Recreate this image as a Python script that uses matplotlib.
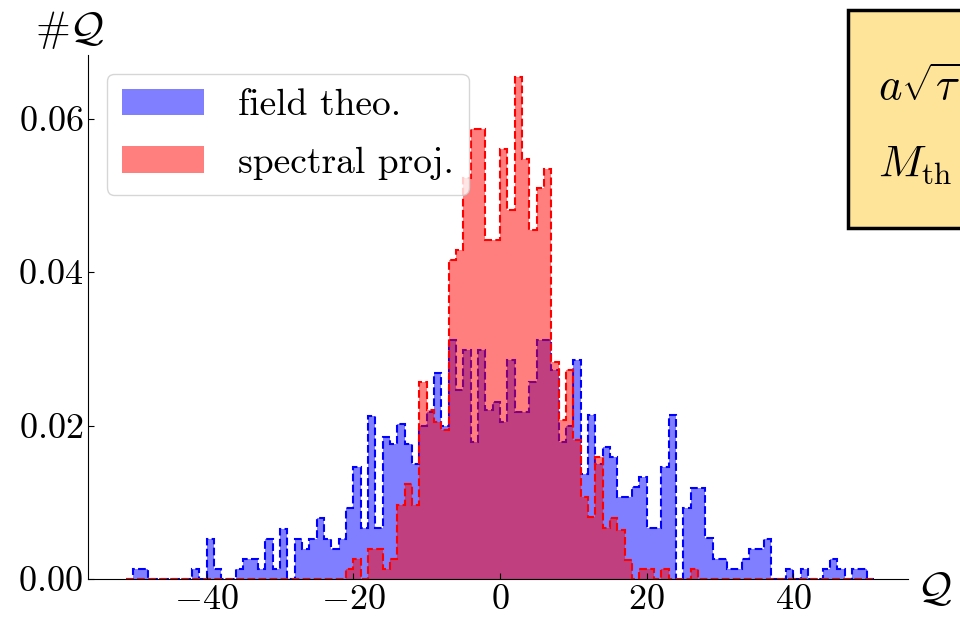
import numpy as np
import matplotlib.pyplot as plt
from matplotlib.patches import Rectangle
from matplotlib.ticker import FuncFormatter

plt.rcParams['font.family'] = 'serif'
plt.rcParams['font.serif'] = ['cmr10']
plt.rcParams['mathtext.fontset'] = 'cm'
plt.rcParams['axes.formatter.use_mathtext'] = True

# bin edges of the topological charge histogram (unit bins)
edges = np.arange(-51, 52)

# normalised counts, bins -51 ... 50
field_theo = [
    0, 0.0013, 0.0013, 0, 0, 0, 0, 0, 0, 0.0013,             # -51..-42
    0, 0.0052, 0.0013, 0, 0, 0.0013, 0.0026, 0.0026, 0.0013, 0.0052,  # -41..-32
    0.0013, 0.0065, 0, 0.0052, 0.0039, 0.0052, 0.0079, 0.0052, 0.0039, 0.0052,  # -31..-22
    0.0092, 0.0146, 0.0066, 0.0212, 0.0067, 0.0185, 0.0176, 0.0202, 0.0176, 0.0150,  # -21..-12
    0.0200, 0.0218, 0.0268, 0.0200, 0.0311, 0.0246, 0.0298, 0.0179, 0.0298, 0.0220,  # -11..-2
    0.0231, 0.0205, 0.0285, 0.0218, 0.0218, 0.0257, 0.0311, 0.0311, 0.0272, 0.0179,  # -1..8
    0.0200, 0.0285, 0.0137, 0.0214, 0.0150, 0.0172, 0.0159, 0.0107, 0.0107, 0.0120,  # 9..18
    0.0133, 0.0066, 0.0066, 0.0146, 0.0214, 0, 0.0092, 0.0119, 0.0119, 0.0053,  # 19..28
    0.0026, 0.0026, 0.0013, 0.0013, 0.0026, 0.0039, 0.0039, 0.0052, 0, 0,  # 29..38
    0.0013, 0, 0.0013, 0, 0, 0.0013, 0.0026, 0.0013, 0, 0.0013,  # 39..48
    0.0013, 0,  # 49..50
]

spectral_proj = [0] * 30 + [
    0.0013, 0.0026, 0, 0.0039, 0.0039, 0.0013, 0.0026, 0.0097, 0.0124, 0.0097,  # -21..-12
    0.0257, 0.0220, 0.0205, 0.0194, 0.0416, 0.0429, 0.0522, 0.0587, 0.0587, 0.0442,  # -11..-2
    0.0442, 0.0561, 0.0481, 0.0654, 0.0548, 0.0455, 0.0509, 0.0535, 0.0283, 0.0207,  # -1..8
    0.0272, 0.0181, 0.0107, 0.0081, 0.0159, 0.0066, 0.0079, 0.0064, 0.0025, 0,  # 9..18
    0.0013, 0.0013, 0, 0.0013, 0, 0, 0, 0.0013,  # 19..26
] + [0] * 24

fig = plt.figure(figsize=(9.6, 6.18), dpi=100)
ax = fig.add_axes([0.0917, 0.0631, 0.854, 0.848])

ax.stairs(field_theo, edges, fill=True, color='blue', alpha=0.5, lw=0, label='field theo.')
ax.stairs(field_theo, edges, color='blue', ls='--', lw=1.5)
ax.stairs(spectral_proj, edges, fill=True, color='red', alpha=0.5, lw=0, label='spectral proj.')
ax.stairs(spectral_proj, edges, color='red', ls='--', lw=1.5)

ax.set_xlim(-56.2, 55.6)
ax.set_ylim(0, 0.0683)
ax.set_xticks([-40, -20, 0, 20, 40])
ax.set_yticks([0, 0.02, 0.04, 0.06])
ax.xaxis.set_major_formatter(FuncFormatter(lambda v, p: r'$%d$' % v))
ax.yaxis.set_major_formatter(FuncFormatter(lambda v, p: r'$%.2f$' % v))
ax.tick_params(direction='in', labelsize=26, length=4)
ax.spines['top'].set_visible(False)
ax.spines['right'].set_visible(False)

ax.text(-0.022, 1.048, r'$\#\mathcal{Q}$', transform=ax.transAxes,
        ha='center', va='center', fontsize=30)
ax.text(1.033, -0.021, r'$\mathcal{Q}$', transform=ax.transAxes,
        ha='center', va='center', fontsize=30)

ax.legend(loc='upper left', fontsize=27, handlelength=2.2,
          handletextpad=0.9, labelspacing=0.65)

# parameter box, runs off the right edge as in the original figure
fig.patches.append(Rectangle((848 / 960, 1 - 228 / 618), 0.2, 218 / 618,
                             transform=fig.transFigure, facecolor='#fde499',
                             edgecolor='black', lw=2.5, zorder=5))
fig.text(878 / 960, 1 - 100 / 618, '$a\\sqrt{\\tau} = 0.5$',
         fontsize=32, ha='left', va='baseline', zorder=6)
fig.text(878 / 960, 1 - 176 / 618, '$M_{\\rm th} = 1.0$',
         fontsize=32, ha='left', va='baseline', zorder=6)

fig.savefig('out.png', dpi=100)
